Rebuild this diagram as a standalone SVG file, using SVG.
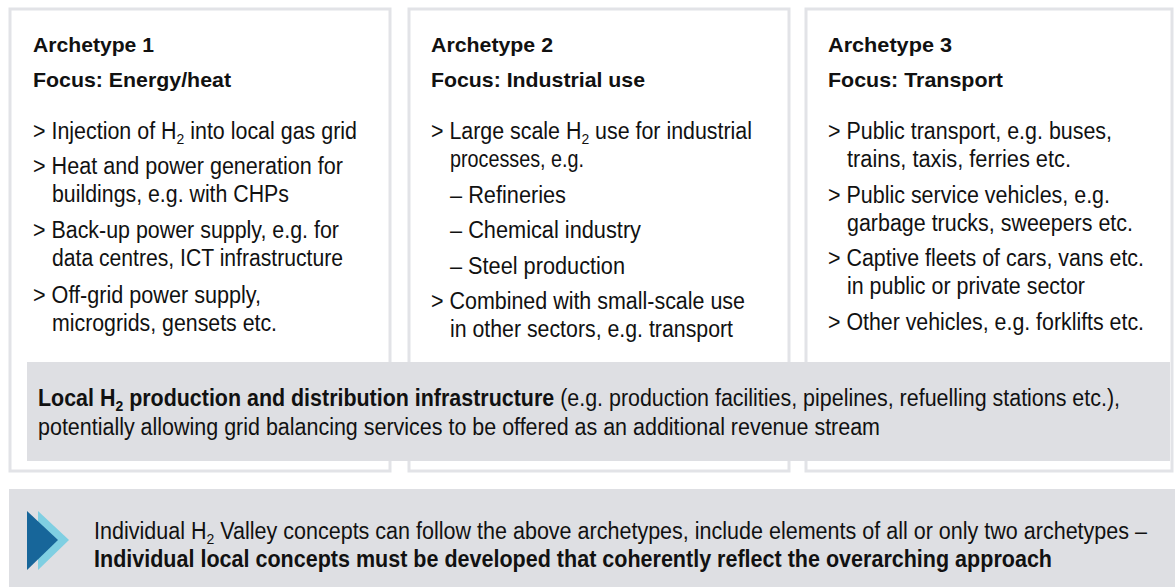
<svg xmlns="http://www.w3.org/2000/svg" width="1175" height="587" viewBox="0 0 1175 587">
<style>
text{font-family:"Liberation Sans",Arial,sans-serif;fill:#111;}
.t{font-size:21px;font-weight:bold;}
.b{font-size:23px;}
.s{font-size:15px;}
.bd{font-weight:bold;}
.box{fill:#fff;stroke:#e2e3e7;stroke-width:3;}
.band{fill:#dedfe3;}
</style>
<g id="archetype1">
<rect class="box" x="10" y="9" width="380" height="462"/>
<text class="t" x="33" y="52" textLength="121" lengthAdjust="spacingAndGlyphs">Archetype 1</text>
<text class="t" x="33" y="87" textLength="198" lengthAdjust="spacingAndGlyphs">Focus: Energy/heat</text>
<text class="b" x="33" y="139" textLength="324" lengthAdjust="spacingAndGlyphs">&gt; Injection of H<tspan class="s" dy="5">2</tspan><tspan dy="-5"> into local gas grid</tspan></text>
<text class="b" x="33" y="174" textLength="310" lengthAdjust="spacingAndGlyphs">&gt; Heat and power generation for</text>
<text class="b" x="52" y="202" textLength="237" lengthAdjust="spacingAndGlyphs">buildings, e.g. with CHPs</text>
<text class="b" x="33" y="238" textLength="306" lengthAdjust="spacingAndGlyphs">&gt; Back-up power supply, e.g. for</text>
<text class="b" x="52" y="266" textLength="291" lengthAdjust="spacingAndGlyphs">data centres, ICT infrastructure</text>
<text class="b" x="33" y="303" textLength="228" lengthAdjust="spacingAndGlyphs">&gt; Off-grid power supply,</text>
<text class="b" x="52" y="331" textLength="225" lengthAdjust="spacingAndGlyphs">microgrids, gensets etc.</text>
</g>
<g id="archetype2">
<rect class="box" x="409" y="9" width="380" height="462"/>
<text class="t" x="431" y="52" textLength="122" lengthAdjust="spacingAndGlyphs">Archetype 2</text>
<text class="t" x="431" y="87" textLength="214" lengthAdjust="spacingAndGlyphs">Focus: Industrial use</text>
<text class="b" x="431" y="139" textLength="321" lengthAdjust="spacingAndGlyphs">&gt; Large scale H<tspan class="s" dy="5">2</tspan><tspan dy="-5"> use for industrial</tspan></text>
<text class="b" x="450" y="167" textLength="134" lengthAdjust="spacingAndGlyphs">processes, e.g.</text>
<text class="b" x="450" y="203" textLength="116" lengthAdjust="spacingAndGlyphs">– Refineries</text>
<text class="b" x="450" y="238" textLength="191" lengthAdjust="spacingAndGlyphs">– Chemical industry</text>
<text class="b" x="450" y="274" textLength="175" lengthAdjust="spacingAndGlyphs">– Steel production</text>
<text class="b" x="431" y="309" textLength="314" lengthAdjust="spacingAndGlyphs">&gt; Combined with small-scale use</text>
<text class="b" x="450" y="337" textLength="283" lengthAdjust="spacingAndGlyphs">in other sectors, e.g. transport</text>
</g>
<g id="archetype3">
<rect class="box" x="806" y="9" width="366" height="462"/>
<text class="t" x="828" y="52" textLength="124" lengthAdjust="spacingAndGlyphs">Archetype 3</text>
<text class="t" x="828" y="87" textLength="175" lengthAdjust="spacingAndGlyphs">Focus: Transport</text>
<text class="b" x="828" y="139" textLength="284" lengthAdjust="spacingAndGlyphs">&gt; Public transport, e.g. buses,</text>
<text class="b" x="847" y="167" textLength="224" lengthAdjust="spacingAndGlyphs">trains, taxis, ferries etc.</text>
<text class="b" x="828" y="203" textLength="282" lengthAdjust="spacingAndGlyphs">&gt; Public service vehicles, e.g.</text>
<text class="b" x="847" y="231" textLength="286" lengthAdjust="spacingAndGlyphs">garbage trucks, sweepers etc.</text>
<text class="b" x="828" y="266" textLength="316" lengthAdjust="spacingAndGlyphs">&gt; Captive fleets of cars, vans etc.</text>
<text class="b" x="847" y="294" textLength="238" lengthAdjust="spacingAndGlyphs">in public or private sector</text>
<text class="b" x="828" y="330" textLength="316" lengthAdjust="spacingAndGlyphs">&gt; Other vehicles, e.g. forklifts etc.</text>
</g>
<g id="infrastructure">
<rect class="band" x="27" y="362" width="1143" height="99"/>
<text class="b" x="38" y="406" textLength="1082" lengthAdjust="spacingAndGlyphs"><tspan class="bd">Local H</tspan><tspan class="s bd" dy="5">2</tspan><tspan class="bd" dy="-5"> production and distribution infrastructure</tspan> (e.g. production facilities, pipelines, refuelling stations etc.),</text>
<text class="b" x="38" y="435" textLength="842" lengthAdjust="spacingAndGlyphs">potentially allowing grid balancing services to be offered as an additional revenue stream</text>
</g>
<g id="conclusion">
<rect class="band" x="9" y="489" width="1166" height="98"/>
<polygon points="38,511 69,540 38,570" fill="#7fcfe2"/>
<polygon points="27,511 58,540 27,570" fill="#17669a"/>
<text class="b" x="94" y="539" textLength="1053" lengthAdjust="spacingAndGlyphs">Individual H<tspan class="s" dy="5">2</tspan><tspan dy="-5"> Valley concepts can follow the above archetypes, include elements of all or only two archetypes –</tspan></text>
<text class="b bd" x="94" y="567" textLength="958" lengthAdjust="spacingAndGlyphs">Individual local concepts must be developed that coherently reflect the overarching approach</text>
</g>
<g id="connectors"></g>
</svg>
